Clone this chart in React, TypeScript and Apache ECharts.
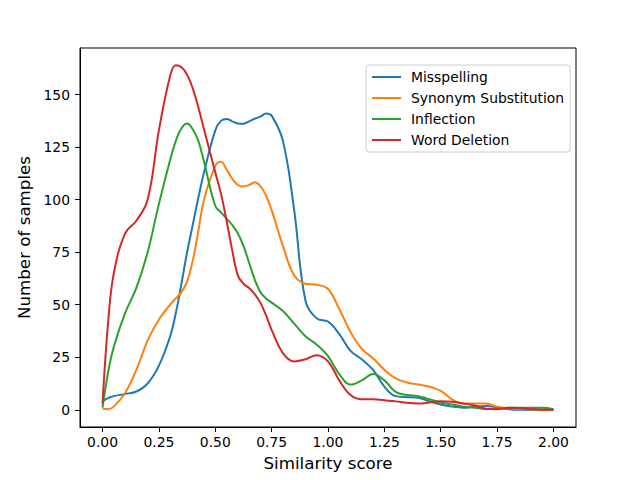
import React, { useEffect, useRef } from "react";
import * as echarts from "echarts";

const xs = [
  0, 0.025, 0.05, 0.1, 0.15, 0.2, 0.25, 0.3, 0.325, 0.35, 0.375, 0.4, 0.425, 0.45, 0.5, 0.525, 0.55, 0.575, 0.6, 0.625,
  0.65, 0.675, 0.7, 0.725, 0.75, 0.8, 0.85, 0.9, 0.95,
  1.0, 1.05, 1.1, 1.15, 1.2, 1.25, 1.3, 1.35, 1.4, 1.45, 1.5, 1.55, 1.6, 1.65, 1.7, 1.75, 1.8, 1.85, 1.9, 1.95, 2.0,
];

const misspelling = [
  4, 5.5, 6.5, 7.5, 8.7, 12.5, 21, 35, 46, 60, 75, 88, 101, 113, 133, 137.5, 138.4, 137.3, 136.3, 136.2,
  137.3, 138.5, 139.5, 141, 140, 128, 95, 52, 43.5,
  42, 36, 28, 24, 19, 11, 6.5, 6, 5.7, 4, 2.5, 1.5, 1, 1.5, 1.8, 1.2, 0.3, 0, 0, 0, 0,
];

const synonym = [
  0.5, 0.3, 1.5, 8, 19, 33, 43, 50, 53, 56, 61, 71, 85, 100, 116, 118, 114.5, 110, 107, 106.3,
  107, 108.3, 106.5, 102, 95, 78, 64, 60, 59.5,
  57.5, 48, 37, 29, 24.5, 19, 15, 13, 12, 11, 9, 5, 3, 3, 3, 1.5, 0.7, 0.5, 0.3, 0, 0,
];

const inflection = [
  1, 18, 30, 46, 58, 75, 98, 119, 128, 134, 136.3, 133.5, 128, 118, 97, 94, 91, 88, 84, 78,
  70, 62, 56, 53, 51, 47, 41, 35, 31,
  25.5, 17, 12, 14, 17, 14, 8.5, 7, 6.5, 5, 3.5, 2.5, 1.5, 1, 0.3, 0.5, 1, 1, 1, 1, 0.3,
];

const wordDeletion = [
  3, 42, 65, 84, 90, 100, 133, 159, 164, 163, 159.5, 153, 144, 133.5, 113, 103, 90, 76, 64, 60,
  58, 55, 51, 45, 38, 27, 23, 24, 26,
  23, 14, 7, 5, 5, 4.5, 4, 3.3, 3, 3.5, 4, 3.8, 3, 2, 0.5, 0.3, 1, 0.8, 0.3, 0, 0,
];

const seriesNames = ["Misspelling", "Synonym Substitution", "Inflection", "Word Deletion"];
const seriesData = [misspelling, synonym, inflection, wordDeletion];
const colors = ["#1f77b4", "#ff7f0e", "#2ca02c", "#d62728"];

const xTicks = [0, 0.25, 0.5, 0.75, 1.0, 1.25, 1.5, 1.75, 2.0];
const yTicks = [0, 25, 50, 75, 100, 125, 150];

const FONT = "DejaVu Sans";

export default function App() {
  const ref = useRef<HTMLDivElement>(null);

  useEffect(() => {
    document.body.style.margin = "0";
    const chart = echarts.init(ref.current!, null, { renderer: "svg" });
    chart.setOption({
      animation: false,
      backgroundColor: "#ffffff",
      textStyle: { fontFamily: FONT },
      grid: {
        left: 80,
        right: 64,
        top: 48,
        bottom: 53,
        show: true,
        borderColor: "#000000",
        borderWidth: 1,
        backgroundColor: "transparent",
      },
      legend: {
        data: seriesNames,
        orient: "vertical",
        left: 366,
        top: 65,
        padding: [4, 6, 4, 6],
        itemWidth: 29,
        itemHeight: 2,
        itemGap: 5,
        icon: "rect",
        backgroundColor: "rgba(255,255,255,0.8)",
        borderColor: "#cccccc",
        borderWidth: 1,
        borderRadius: 3,
        textStyle: {
          fontFamily: FONT,
          fontSize: 13.9,
          color: "#000000",
          lineHeight: 16,
          padding: [0, 0, 0, 5],
        },
      },
      xAxis: {
        type: "value",
        min: -0.1,
        max: 2.1,
        name: "Similarity score",
        nameLocation: "middle",
        nameGap: 27,
        nameTextStyle: { fontFamily: FONT, fontSize: 16.7, color: "#000000" },
        axisLine: { show: true, onZero: false, lineStyle: { color: "#000000", width: 1 } },
        splitLine: { show: false },
        axisTick: {
          show: true,
          length: 5,
          lineStyle: { color: "#000000", width: 1 },
          customValues: xTicks,
        },
        axisLabel: {
          fontFamily: FONT,
          fontSize: 13.9,
          color: "#000000",
          margin: 8,
          customValues: xTicks,
          formatter: (v: number) => v.toFixed(2),
        },
      },
      yAxis: {
        type: "value",
        min: -8.2,
        max: 172.2,
        name: "Number of samples",
        nameLocation: "middle",
        nameGap: 44,
        nameTextStyle: { fontFamily: FONT, fontSize: 16.7, color: "#000000" },
        axisLine: { show: true, onZero: false, lineStyle: { color: "#000000", width: 1 } },
        splitLine: { show: false },
        axisTick: {
          show: true,
          length: 5,
          lineStyle: { color: "#000000", width: 1 },
          customValues: yTicks,
        },
        axisLabel: {
          fontFamily: FONT,
          fontSize: 13.9,
          color: "#000000",
          margin: 10,
          customValues: yTicks,
        },
      },
      series: seriesNames.map((name, i) => ({
        name,
        type: "line",
        data: xs.map((x, j) => [x, seriesData[i][j]]),
        smooth: 0.4,
        showSymbol: false,
        symbol: "none",
        lineStyle: { color: colors[i], width: 2 },
        itemStyle: { color: colors[i] },
        z: 2 + i,
      })),
    });
    return () => chart.dispose();
  }, []);

  return <div ref={ref} style={{ width: 640, height: 480 }} />;
}
